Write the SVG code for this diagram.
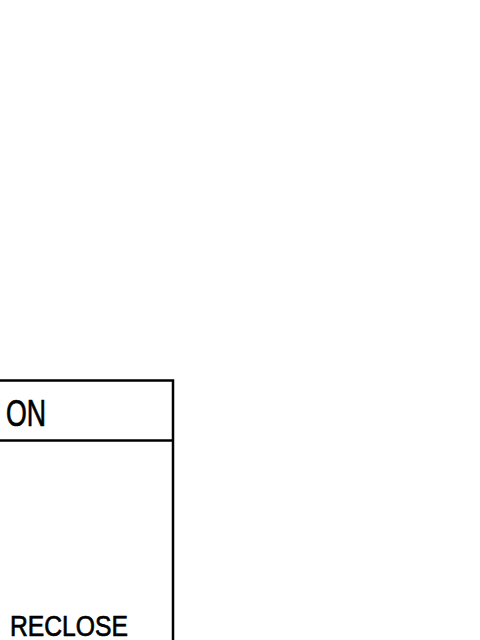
<svg xmlns="http://www.w3.org/2000/svg" width="480" height="640" viewBox="0 0 480 640">
<style>
.ln{fill:none;stroke:#000;stroke-width:2.5}
.t{font-family:"Liberation Sans","DejaVu Sans",sans-serif;fill:#000;stroke:#000;stroke-width:0.7}
</style>
<rect width="480" height="640" fill="#fff"/>
<g id="node-box">
<path class="ln" d="M-2 380.5 H173 V642"/>
<path class="ln" d="M-2 440.5 H173"/>
<text class="t" x="6" y="425.5" font-size="36" textLength="40" lengthAdjust="spacingAndGlyphs">ON</text>
<text class="t" x="10" y="636" font-size="29" textLength="118" lengthAdjust="spacingAndGlyphs">RECLOSE</text>
</g>
<g id="connectors"></g>
</svg>
